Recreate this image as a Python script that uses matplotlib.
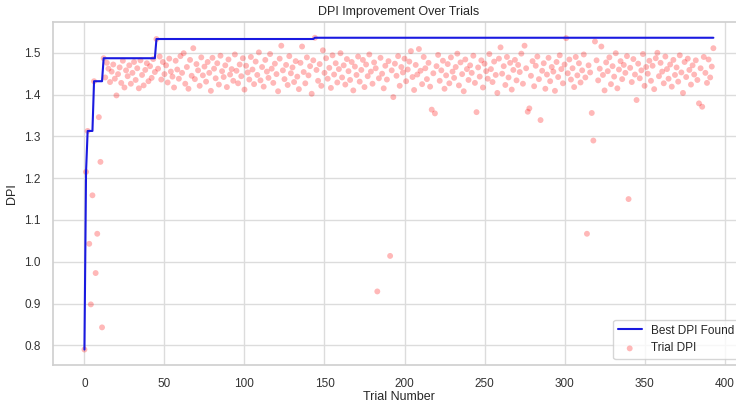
import numpy as np
import matplotlib
matplotlib.use("Agg")
import matplotlib.pyplot as plt
import seaborn as sns

# DPI score of each optimisation trial, in trial order
trial_dpi = [
    0.790, 1.215, 1.313, 1.043, 0.898, 1.159, 1.432, 0.973, 1.067, 1.346,
    1.239, 0.843, 1.487, 1.441, 1.476, 1.462, 1.430, 1.455, 1.472, 1.438,
    1.398, 1.449, 1.465, 1.428, 1.481, 1.417, 1.458, 1.444, 1.470, 1.426,
    1.452, 1.478, 1.435, 1.463, 1.415, 1.482, 1.447, 1.422, 1.459, 1.475,
    1.432, 1.468, 1.440, 1.485, 1.454, 1.533, 1.462, 1.491, 1.436, 1.478,
    1.449, 1.470, 1.429, 1.486, 1.455, 1.443, 1.417, 1.481, 1.460, 1.438,
    1.492, 1.452, 1.499, 1.426, 1.466, 1.414, 1.483, 1.445, 1.511, 1.437,
    1.473, 1.458, 1.421, 1.489, 1.446, 1.467, 1.431, 1.478, 1.452, 1.409,
    1.488, 1.462, 1.439, 1.475, 1.424, 1.493, 1.456, 1.442, 1.470, 1.418,
    1.484, 1.448, 1.461, 1.433, 1.496, 1.457, 1.427, 1.472, 1.444, 1.487,
    1.412, 1.469, 1.453, 1.436, 1.490, 1.460, 1.425, 1.479, 1.447, 1.501,
    1.434, 1.466, 1.419, 1.483, 1.455, 1.440, 1.497, 1.462, 1.428, 1.474,
    1.449, 1.408, 1.486, 1.517, 1.458, 1.437, 1.471, 1.423, 1.492, 1.451,
    1.465, 1.430, 1.480, 1.443, 1.413, 1.476, 1.515, 1.454, 1.427, 1.489,
    1.446, 1.468, 1.402, 1.482, 1.536, 1.459, 1.433, 1.473, 1.421, 1.506,
    1.452, 1.487, 1.438, 1.464, 1.416, 1.494, 1.448, 1.475, 1.429, 1.461,
    1.499, 1.441, 1.470, 1.424, 1.485, 1.456, 1.435, 1.478, 1.410, 1.467,
    1.447, 1.491, 1.431, 1.459, 1.483, 1.418, 1.472, 1.444, 1.496, 1.455,
    1.426, 1.477, 1.463, 0.929, 1.439, 1.488, 1.450, 1.415, 1.469, 1.436,
    1.480, 1.014, 1.458, 1.394, 1.474, 1.445, 1.492, 1.421, 1.466, 1.453,
    1.486, 1.432, 1.460, 1.479, 1.504, 1.442, 1.411, 1.471, 1.448, 1.509,
    1.457, 1.425, 1.490, 1.463, 1.437, 1.476, 1.419, 1.364, 1.451, 1.355,
    1.468, 1.495, 1.433, 1.458, 1.481, 1.414, 1.446, 1.473, 1.427, 1.489,
    1.455, 1.440, 1.466, 1.498, 1.422, 1.477, 1.449, 1.408, 1.484, 1.461,
    1.435, 1.470, 1.452, 1.493, 1.428, 1.358, 1.465, 1.443, 1.482, 1.417,
    1.474, 1.456, 1.438, 1.497, 1.461, 1.430, 1.479, 1.447, 1.404, 1.486,
    1.513, 1.450, 1.468, 1.423, 1.490, 1.441, 1.476, 1.412, 1.459, 1.483,
    1.434, 1.471, 1.454, 1.498, 1.426, 1.517, 1.463, 1.359, 1.367, 1.445,
    1.480, 1.420, 1.469, 1.491, 1.437, 1.339, 1.457, 1.475, 1.414, 1.448,
    1.488, 1.432, 1.466, 1.455, 1.409, 1.478, 1.442, 1.494, 1.461, 1.427,
    1.472, 1.535, 1.451, 1.484, 1.436, 1.463, 1.418, 1.490, 1.446, 1.475,
    1.429, 1.458, 1.496, 1.441, 1.067, 1.470, 1.453, 1.356, 1.290, 1.527,
    1.482, 1.434, 1.462, 1.515, 1.447, 1.410, 1.477, 1.456, 1.489, 1.425,
    1.468, 1.443, 1.499, 1.415, 1.460, 1.480, 1.437, 1.471, 1.452, 1.492,
    1.150, 1.464, 1.430, 1.485, 1.448, 1.387, 1.474, 1.439, 1.458, 1.497,
    1.421, 1.466, 1.450, 1.481, 1.433, 1.469, 1.413, 1.487, 1.500, 1.444,
    1.476, 1.455, 1.427, 1.491, 1.461, 1.438, 1.472, 1.419, 1.483, 1.447,
    1.465, 1.431, 1.494, 1.453, 1.404, 1.478, 1.442, 1.486, 1.459, 1.424,
    1.470, 1.448, 1.482, 1.435, 1.379, 1.463, 1.371, 1.490, 1.452, 1.428,
    1.484, 1.441, 1.467, 1.511,
]

trials = np.arange(len(trial_dpi))
best_dpi = np.maximum.accumulate(trial_dpi)

sns.set_theme(style="whitegrid", rc={"grid.color": "#dcdcdc",
                                     "axes.edgecolor": "#d0d0d0"})
plt.rcParams["font.family"] = ["Liberation Sans", "DejaVu Sans"]

fig = plt.figure(figsize=(7.36, 4.03), dpi=100)
ax = fig.add_axes([0.072, 0.094, 0.940, 0.851])

ax.plot(trials, best_dpi, color="#1a1ae0", linewidth=1.5, label="Best DPI Found")
ax.scatter(trials, trial_dpi, color="red", alpha=0.28, s=18,
           edgecolors="none", label="Trial DPI")

ax.set_title("DPI Improvement Over Trials", fontsize=9, pad=5)
ax.set_xlabel("Trial Number", fontsize=9, labelpad=1)
ax.set_ylabel("DPI", fontsize=9, labelpad=4)
ax.tick_params(axis="both", labelsize=8.5, pad=3, colors="#333333")
ax.set_xticks(np.arange(0, 401, 50))
ax.legend(loc="lower right", fontsize=8.5, frameon=True)

fig.savefig("out.png", dpi=100)
